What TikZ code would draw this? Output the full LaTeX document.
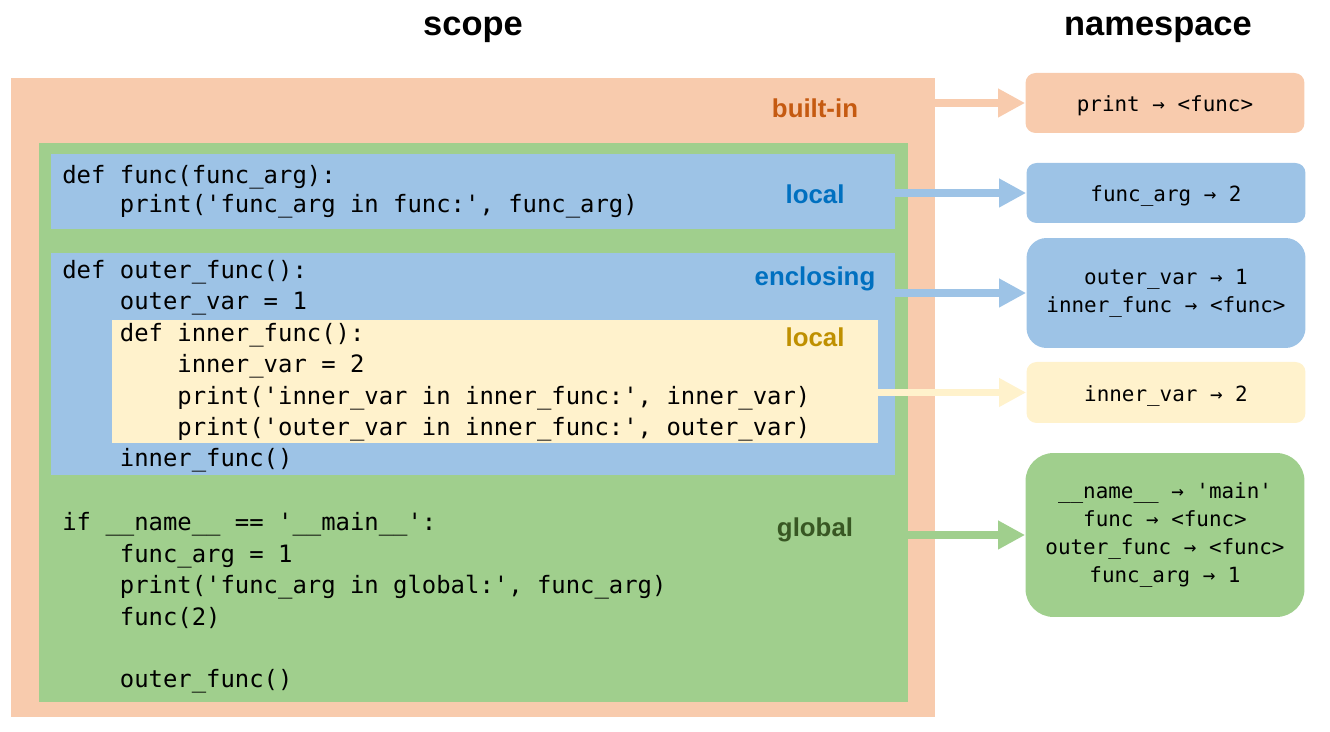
\documentclass[tikz,border=0pt]{standalone}
\usepackage{fontspec}
\setmainfont{Liberation Sans}
\setmonofont{DejaVu Sans Mono}
\usetikzlibrary{arrows.meta}

\definecolor{builtinfill}{HTML}{F8CBAD}
\definecolor{globalfill}{HTML}{A0CF8D}
\definecolor{localfill}{HTML}{9DC3E6}
\definecolor{innerfill}{HTML}{FFF2CC}
\definecolor{builtintext}{HTML}{C55A11}
\definecolor{localtext}{HTML}{0070C0}
\definecolor{innertext}{HTML}{BF9000}
\definecolor{globaltext}{HTML}{385723}

\newcommand{\ind}{\hphantom{0000}}

\tikzset{
	region/.style={rectangle,inner sep=0,draw=none},
	codetext/.style={anchor=base west,align=left,inner sep=0,
		font=\ttfamily\fontsize{13.6}{17.9}\selectfont},
	scopelabel/.style={anchor=base,inner sep=0,font=\bfseries\fontsize{14.7}{17}\selectfont},
	title/.style={anchor=base,inner sep=0,font=\bfseries\fontsize{19.6}{23}\selectfont},
	nsbox/.style={rectangle,inner sep=0,align=center,minimum width=5.58cm,
		font=\ttfamily\fontsize{11.9}{16}\selectfont,
		execute at begin node={\rule{0pt}{1.05em}}},
	nsarrow/.style={line width=4.5pt,arrows={-Triangle[length=0.54cm,width=0.54cm]}}
}

\begin{document}
\begin{tikzpicture}[x=0.02cm,y=-0.02cm]
	\useasboundingbox (0,0) rectangle (1330,732);

	% titles
	\node [title] (scopetitle) at (473,36) {scope};
	\node [title] (nstitle) at (1158,36) {namespace};

	% nested scopes
	\node [region,fill=builtinfill,minimum width=18.48cm,minimum height=12.78cm] (blt) at (473,397.5) {};
	\node [region,fill=globalfill,minimum width=17.38cm,minimum height=11.18cm] (glb) at (473.5,422.5) {};
	\node [region,fill=localfill,minimum width=16.88cm,minimum height=1.5cm] (loc) at (473,191.5) {};
	\node [region,fill=localfill,minimum width=16.88cm,minimum height=4.44cm] (encl) at (473,364) {};
	\node [region,fill=innerfill,minimum width=15.32cm,minimum height=2.46cm] (inner) at (495,381.5) {};

	\node [scopelabel,text=builtintext] (bltlabel) at (815,117.5) {built-in};
	\node [scopelabel,text=localtext] (loclabel) at (815,203.5) {local};
	\node [scopelabel,text=localtext] (encllabel) at (815,285.5) {enclosing};
	\node [scopelabel,text=innertext] (innerlabel) at (815,346.5) {local};
	\node [scopelabel,text=globaltext] (glblabel) at (815,536.5) {global};

	% code (base = last line)
	\node [codetext,font=\ttfamily\fontsize{13.6}{16.6}\selectfont] (loccode) at (62,213) {def func(func\_arg):\\
		\ind print('func\_arg in func:', func\_arg)};
	\node [codetext] (enclcode) at (62,467) {def outer\_func():\\
		\ind outer\_var = 1\\
		\ind def inner\_func():\\
		\ind\ind inner\_var = 2\\
		\ind\ind print('inner\_var in inner\_func:', inner\_var)\\
		\ind\ind print('outer\_var in inner\_func:', outer\_var)\\
		\ind inner\_func()};
	\node [codetext] (glbcode) at (62,688) {if \_\_name\_\_ == '\_\_main\_\_':\\
		\ind func\_arg = 1\\
		\ind print('func\_arg in global:', func\_arg)\\
		\ind func(2)\\
		~\\
		\ind outer\_func()};

	% namespaces
	\node [nsbox,fill=builtinfill,rounded corners=0.2cm,minimum height=1.2cm] (bltns) at (1165,103) {print → <func>};
	\node [nsbox,fill=localfill,rounded corners=0.2cm,minimum height=1.2cm] (locns) at (1166,193) {func\_arg → 2};
	\node [nsbox,fill=localfill,rounded corners=0.4cm,minimum height=2.2cm] (enclns) at (1166,293) {outer\_var → 1\\inner\_func → <func>};
	\node [nsbox,fill=innerfill,rounded corners=0.2cm,minimum height=1.22cm] (innerns) at (1166,392.5) {inner\_var → 2};
	\node [nsbox,fill=globalfill,rounded corners=0.56cm,minimum height=3.28cm] (glbns) at (1165,535) {\_\_name\_\_ → 'main'\\func → <func>\\outer\_func → <func>\\func\_arg → 1};

	\draw [nsarrow,draw=builtinfill,fill=builtinfill] (blt.east |- bltns.west) -- (bltns.west);
	\draw [nsarrow,draw=localfill,fill=localfill] (loc.east |- locns.west) -- (locns.west);
	\draw [nsarrow,draw=localfill,fill=localfill] (encl.east |- enclns.west) -- (enclns.west);
	\draw [nsarrow,draw=innerfill,fill=innerfill] (inner.east |- innerns.west) -- (innerns.west);
	\draw [nsarrow,draw=globalfill,fill=globalfill] (glb.east |- glbns.west) -- (glbns.west);
\end{tikzpicture}
\end{document}
